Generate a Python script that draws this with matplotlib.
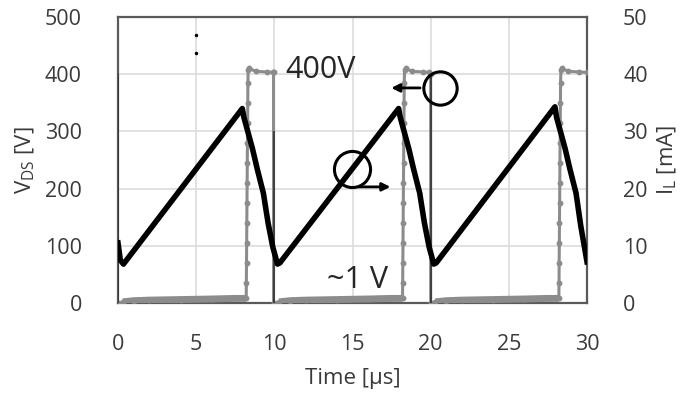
import numpy as np
import matplotlib.pyplot as plt

plt.rcParams['font.family'] = ['Open Sans', 'DejaVu Sans']
plt.rcParams['mathtext.fontset'] = 'custom'
plt.rcParams['mathtext.rm'] = 'Open Sans'

# drain-source voltage V_DS [V] vs time [us] (grey trace)
t_vds = [0.0, 0.3, 1.0, 2.0, 4.0, 6.0, 7.5, 8.2,
         8.21, 8.22, 8.23, 8.24, 8.25, 8.26, 8.27, 8.28, 8.29, 8.30, 8.31, 8.33,
         8.4, 8.8, 9.5, 9.92, 9.95, 9.95,
         10.3, 11.0, 12.0, 14.0, 16.0, 17.5, 18.2,
         18.21, 18.22, 18.23, 18.24, 18.25, 18.26, 18.27, 18.28, 18.29, 18.30, 18.31, 18.33,
         18.4, 18.8, 19.5, 19.9, 20.0, 20.0,
         20.3, 21.0, 22.0, 24.0, 26.0, 27.5, 28.2,
         28.21, 28.22, 28.23, 28.24, 28.25, 28.26, 28.27, 28.28, 28.29, 28.30, 28.31, 28.33,
         28.4, 28.8, 29.5, 30.0]
v_ds = [0, 2, 4, 5, 6, 7, 8, 8,
        35, 70, 105, 140, 175, 210, 245, 280, 315, 350, 385, 408,
        410, 405, 404, 403, 403, 0,
        2, 4, 5, 6, 7, 8, 8,
        35, 70, 105, 140, 175, 210, 245, 280, 315, 350, 385, 408,
        410, 405, 404, 403, 400, 0,
        2, 4, 5, 6, 7, 8, 8,
        35, 70, 105, 140, 175, 210, 245, 280, 315, 350, 385, 408,
        410, 405, 404, 403]

# turn-off edges of V_DS (dark vertical lines)
t_fall = [0.0, 9.95, 20.0]
v_fall_top = [400, 300, 400]

# a couple of stray points near t = 5 us
t_stray = [4.97, 4.97]
v_stray = [468, 437]

# inductor current I_L [mA] (black trace)
t_il = [0.0, 0.15, 0.35, 7.95, 8.05, 8.3, 8.6, 8.9, 9.3, 9.6, 9.9, 10.2,
        10.35, 17.95, 18.05, 18.3, 18.6, 18.9, 19.3, 19.6, 19.9, 20.2,
        20.35, 27.95, 28.05, 28.3, 28.6, 28.9, 29.3, 29.6, 30.0]
i_l = [10.5, 7.5, 6.8, 34.0, 32.5, 30.0, 27.0, 23.5, 19.2, 14.0, 9.8, 6.8,
       7.0, 34.0, 32.5, 30.0, 27.0, 23.5, 19.2, 14.0, 9.8, 6.8,
       7.0, 34.3, 32.5, 30.0, 27.0, 23.5, 19.2, 13.5, 7.2]

x_ticks = [0, 5, 10, 15, 20, 25, 30]
v_ticks = [0, 100, 200, 300, 400, 500]
i_ticks = [0, 10, 20, 30, 40, 50]

txt = '#3a3a3a'
spine_c = '#5a5a5a'

fig = plt.figure(figsize=(6.8, 3.96), dpi=100)
ax = fig.add_axes([118 / 680, 1 - 303 / 396, 469 / 680, 286 / 396])

ax.set_xlim(0, 30)
ax.set_ylim(0, 500)
ax.set_xticks(x_ticks)
ax.set_yticks(v_ticks)
ax.grid(True, color='#dcdcdc', lw=1.2)
ax.set_axisbelow(True)

ax.plot(t_vds, v_ds, color='#8c8c8c', lw=2.2, marker='o', ms=3.2,
        solid_joinstyle='miter', zorder=3)
# thicker low-level band (~1 V during on-state)
t_arr = np.array(t_vds)
v_arr = np.array(v_ds, dtype=float)
v_low = np.where((v_arr < 20) & (v_arr > 0.5), v_arr, np.nan)
ax.plot(t_arr, v_low, color='#8c8c8c', lw=5, solid_capstyle='butt', zorder=3)
ax.vlines(t_fall, 0, v_fall_top, color='#333333', lw=1.2, zorder=4)
ax.plot(t_stray, v_stray, 'o', color='black', ms=1.5, zorder=4)

for s in ax.spines.values():
    s.set_color(spine_c)
    s.set_linewidth(1.6)

ax2 = ax.twinx()
ax2.set_ylim(0, 50)
ax2.set_yticks(i_ticks)
ax2.plot(t_il, i_l, color='black', lw=4.0, solid_joinstyle='round', zorder=5)
for s in ax2.spines.values():
    s.set_visible(False)

for a in (ax, ax2):
    a.tick_params(length=0, labelsize=15.5, colors=txt)
ax.tick_params(axis='y', pad=26)
ax.tick_params(axis='x', pad=22)
ax2.tick_params(axis='y', pad=26)

ax.set_xlabel('Time [µs]', fontsize=16, color=txt, labelpad=10)
ax.set_ylabel(r'V$_{\mathrm{DS}}$ [V]', fontsize=16, color=txt, labelpad=6)
ax2.set_ylabel(r'I$_{\mathrm{L}}$ [mA]', fontsize=16, color=txt, labelpad=6)

# annotations
ax.text(10.68, 408, '400V', fontsize=22, color='#262626', va='center', ha='left')
ax.text(13.37, 40, '~1 V', fontsize=22, color='#262626', va='center', ha='left')

ax.plot([20.6], [375], 'o', ms=24, mfc='none', mec='black', mew=2.2, zorder=6)
ax.annotate('', xy=(17.3, 376), xytext=(19.5, 376),
            arrowprops=dict(arrowstyle='-|>', color='black', lw=2, mutation_scale=12),
            zorder=6)
ax.plot([14.94], [235], 'o', ms=26, mfc='none', mec='black', mew=2.2, zorder=6)
ax.annotate('', xy=(17.6, 203), xytext=(15.2, 203),
            arrowprops=dict(arrowstyle='-|>', color='black', lw=2, mutation_scale=12),
            zorder=6)

fig.savefig('out.png', dpi=100)
